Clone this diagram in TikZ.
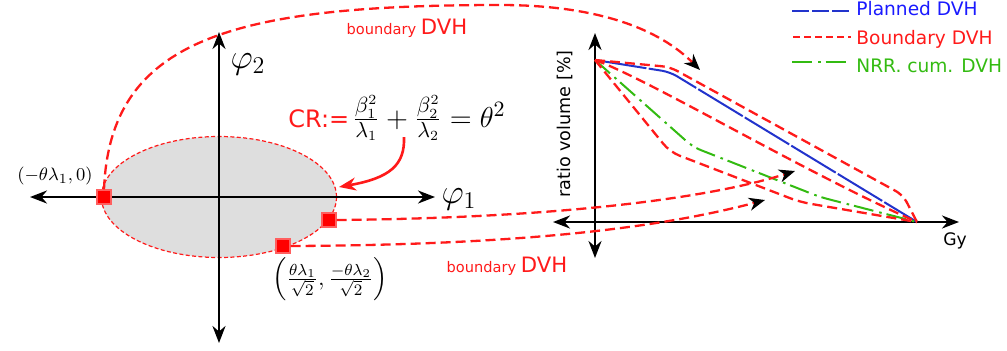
\documentclass[tikz,border=0pt]{standalone}
\usepackage{amsmath,amssymb}
\usepackage{fontspec}
\newfontfamily\dejavu{DejaVu Sans}
\usepackage{tikz}
\usetikzlibrary{arrows.meta}
\definecolor{bnd}{HTML}{FF1A1A}
\definecolor{pln}{HTML}{2233CC}
\definecolor{plntxt}{HTML}{1A1AFF}
\definecolor{nrr}{HTML}{33BB11}
\definecolor{region}{HTML}{DEDEDE}
\newcommand{\sz}[1]{\fontsize{#1}{#1}\selectfont}

\begin{document}
\begin{tikzpicture}[x=0.5pt, y=-0.5pt,
  axis/.style={line width=1.3pt, {Stealth[length=8.5pt,width=6.5pt]}-{Stealth[length=8.5pt,width=6.5pt]}},
  bound/.style={bnd, line width=1.15pt, dash pattern=on 5pt off 2.5pt},
  planned/.style={pln, line width=1pt, dash pattern=on 26pt off 1.2pt},
  nrrline/.style={nrr, line width=1pt, dash pattern=on 10pt off 3pt on 1.3pt off 2.5pt},
  ptmark/.style={draw=bnd!70, fill=red, minimum size=7pt, inner sep=0pt, line width=0.6pt},
  tipped/.style={-{Stealth[black, length=8pt, width=6.5pt, inset=2.5pt]}},
  every node/.style={inner sep=0pt}]
\useasboundingbox (0,0) rectangle (1007,350);

% Constraint region
\draw[bnd, line width=0.6pt, dash pattern=on 2pt off 1.2pt, fill=region] (219,197) ellipse [x radius=117.5, y radius=60.5];

% Axes of the parameter plane
\coordinate (lW) at (30,197);
\coordinate (lE) at (435,197);
\coordinate (lN) at (219,32);
\coordinate (lS) at (219,343);
\draw[axis] (lW) -- (lE);
\draw[axis] (lS) -- (lN);
\node (phi1) at (459,199) {\sz{17}$\varphi_1$};
\node (phi2) at (248,64) {\sz{17}$\varphi_2$};

% Point labels
\node (pAlbl) at (55,176) {\sz{9.4}$(-\theta\lambda_1,0)$};
\node (pClbl) at (330,279) {\sz{12}$\left(\frac{\theta\lambda_1}{\sqrt{2}},\frac{-\theta\lambda_2}{\sqrt{2}}\right)$};

% Region definition and its arrow
\node (cr) at (397,118) {{\dejavu\sz{12}\color{bnd}CR:=}\,{\sz{15}$\frac{\beta_1^2}{\lambda_1}+\frac{\beta_2^2}{\lambda_2}=\theta^2$}};
\coordinate (crFrom) at (404,137);
\coordinate (crTo) at (339,187);
\draw[bnd, line width=1.3pt, -{Stealth[length=8.5pt,width=6.5pt]}] (crFrom) .. controls (405,165) and (390,178) .. (crTo);

% Boundary points
\node[ptmark] (pA) at (104,197) {};
\node[ptmark] (pB) at (329,220) {};
\node[ptmark] (pC) at (283,246) {};

% Axes of the DVH plot
\coordinate (rW) at (553,222);
\coordinate (rE) at (959,222);
\coordinate (rN) at (595,33);
\coordinate (rS) at (595,258);
\draw[axis] (rW) -- (rE);
\draw[axis] (rS) -- (rN);
\node[rotate=90] (ylab) at (565,124) {\dejavu\sz{8.8}ratio volume [\%]};
\node (xlab) at (955,241) {\dejavu\sz{8.6}Gy};

% DVH curves
\coordinate (o) at (595,60);
\coordinate (e) at (917,222);
\draw[planned, rounded corners=4pt] (o) -- (670,72) -- (e);
\draw[nrrline, rounded corners=4pt] (o) -- (693,147) -- (820,197) -- (e);
\draw[bound, rounded corners=4pt] (o) -- (670,67) -- (903,195) -- (e);
\draw[bound] (o) .. controls (650,80) and (800,170) .. (e);
\draw[bound, rounded corners=5pt] (o) -- (670,152) -- (800,202) -- (e);

% Mapping from boundary points to boundary DVHs
\coordinate (tA) at (700,70);
\coordinate (tB) at (795,171);
\coordinate (tC) at (765,200);
\draw[bound, tipped] (pA.north) .. controls (110,40) and (230,5) .. (500,5) .. controls (600,5) and (660,30) .. (tA);
\draw[bound, tipped] (pB.east) .. controls (560,218) and (710,198) .. (tB);
\draw[bound, tipped] (pC.east) .. controls (520,245) and (660,228) .. (tC);
\node (bndTop) at (407,28) {\dejavu\color{bnd}\sz{7.3}boundary \sz{10.6}DVH};
\node (bndBot) at (507,266) {\dejavu\color{bnd}\sz{7.3}boundary \sz{10.6}DVH};

% Legend
\draw[planned, dash pattern=on 8.5pt off 1.5pt] (792,11) -- (849,11);
\node[anchor=base west] (lgP) at (856,15) {\dejavu\sz{9.3}\color{plntxt}Planned DVH};
\draw[bound, dash pattern=on 3.5pt off 2pt] (793,37) -- (851,37);
\node[anchor=base west] (lgB) at (856,44) {\dejavu\sz{9.3}\color{bnd}Boundary DVH};
\draw[nrrline] (792,62) -- (850,62);
\node[anchor=base west] (lgN) at (856,72) {\dejavu\sz{9.3}\color{nrr}NRR. cum. DVH};
\end{tikzpicture}
\end{document}
